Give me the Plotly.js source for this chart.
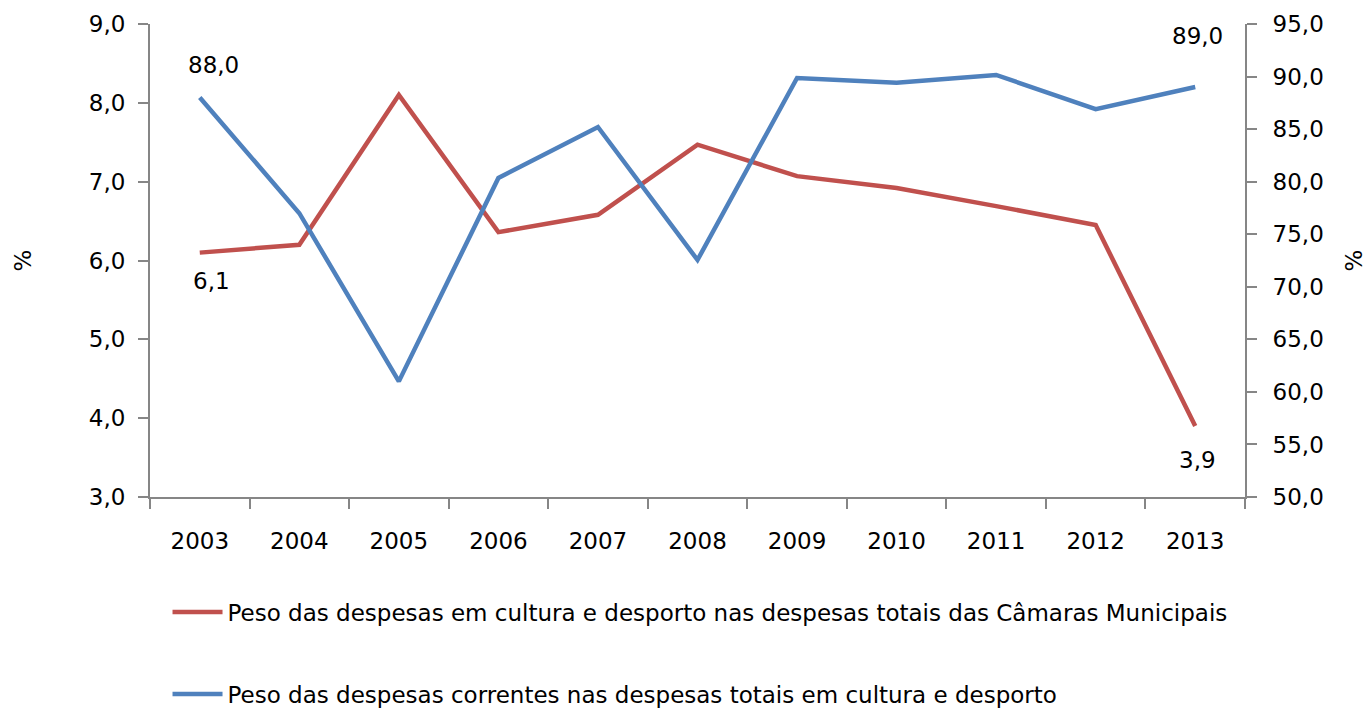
<!DOCTYPE html>
<html>
<head>
<meta charset="utf-8">
<script src="https://cdn.plot.ly/plotly-3.0.1.min.js"></script>
<style>html,body{margin:0;padding:0;background:#fff;}#chart{width:1367px;height:711px;}</style>
</head>
<body>
<div id="chart"></div>
<script>
var years = ["2003","2004","2005","2006","2007","2008","2009","2010","2011","2012","2013"];
var pesoCulturaDesporto = [6.1, 6.2, 8.1, 6.36, 6.58, 7.47, 7.07, 6.92, 6.69, 6.45, 3.9];
var pesoCorrentes = [88.0, 77.0, 61.0, 80.35, 85.2, 72.55, 89.86, 89.4, 90.15, 86.9, 89.0];
var seriesNames = [
  "Peso das despesas em cultura e desporto nas despesas totais das Câmaras Municipais",
  "Peso das despesas correntes nas despesas totais em cultura e desporto"
];
var leftTicks = [3,4,5,6,7,8,9];
var rightTicks = [50,55,60,65,70,75,80,85,90,95];

var FONT = "DejaVu Sans, Verdana, sans-serif";
var FS = 23;
function fmt(v){ return v.toFixed(1).replace(".", ","); }

var traces = [
  {x: years, y: pesoCulturaDesporto, name: seriesNames[0], type: "scatter", mode: "lines",
   line: {color: "#C0504D", width: 4.5}, yaxis: "y", legendgroup: "a"},
  {x: years, y: pesoCorrentes, name: seriesNames[1], type: "scatter", mode: "lines",
   line: {color: "#4F81BD", width: 4.5}, yaxis: "y2", legendgroup: "b"}
];

var n = years.length - 1;
var annotations = [
  {x: 0, y: pesoCulturaDesporto[0], yref: "y", xref: "x", text: fmt(pesoCulturaDesporto[0]), showarrow: false, xshift: 12, yshift: -28},
  {x: n, y: pesoCulturaDesporto[n], yref: "y", xref: "x", text: fmt(pesoCulturaDesporto[n]), showarrow: false, xshift: 2, yshift: -34},
  {x: 0, y: pesoCorrentes[0], yref: "y2", xref: "x", text: fmt(pesoCorrentes[0]), showarrow: false, xshift: 14, yshift: 33},
  {x: n, y: pesoCorrentes[n], yref: "y2", xref: "x", text: fmt(pesoCorrentes[n]), showarrow: false, xshift: 2, yshift: 51}
];
annotations.forEach(function(a){ a.font = {family: FONT, size: FS, color: "#000"}; });

var axisCommon = {
  showgrid: false, zeroline: false, showline: true, linecolor: "#868686", linewidth: 2,
  ticks: "outside", tickcolor: "#868686", tickwidth: 2, ticklen: 10,
  tickfont: {family: FONT, size: FS, color: "#000"}
};

var layout = {
  width: 1367, height: 711,
  margin: {l: 150, r: 122, t: 24, b: 214, autoexpand: false},
  paper_bgcolor: "#fff", plot_bgcolor: "#fff",
  separators: ",.",
  font: {family: FONT, size: FS, color: "#000"},
  showlegend: true,
  legend: {x: 0.016, xref: "paper", y: -0.198, yanchor: "top", xanchor: "left", orientation: "v",
    itemwidth: 50,
    font: {family: FONT, size: FS, color: "#000"}, tracegroupgap: 49, bgcolor: "rgba(0,0,0,0)"},
  xaxis: Object.assign({}, axisCommon, {type: "category", tickson: "boundaries", range: [-0.5, 10.5], ticklabelstandoff: 22}),
  yaxis: Object.assign({}, axisCommon, {range: [3, 9], tickvals: leftTicks, ticktext: leftTicks.map(fmt), ticklabelstandoff: 8,
    title: {text: "%", font: {family: FONT, size: FS}, standoff: 51}}),
  yaxis2: Object.assign({}, axisCommon, {range: [50, 95], tickvals: rightTicks, ticktext: rightTicks.map(fmt), overlaying: "y", side: "right", ticklabelstandoff: 11,
    title: {text: "%", font: {family: FONT, size: FS}, standoff: 25}}),
  annotations: annotations
};

Plotly.newPlot("chart", traces, layout, {displayModeBar: false, staticPlot: true});
</script>
</body>
</html>
